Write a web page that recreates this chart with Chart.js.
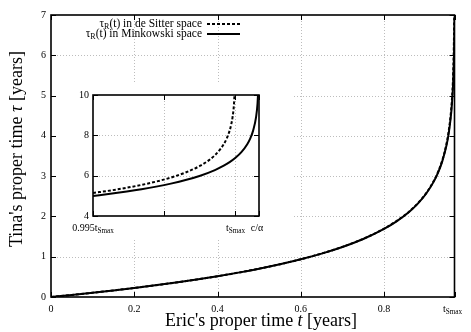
<!DOCTYPE html>
<html>
<head>
<meta charset="utf-8">
<script src="https://cdn.jsdelivr.net/npm/chart.js@4.4.1/dist/chart.umd.min.js"></script>
<style>
  html, body { margin: 0; padding: 0; background: #fff; }
  #wrap { position: relative; width: 471px; height: 332px; }
  #main { position: absolute; left: 0; top: 0; }
  #inset { position: absolute; left: 56px; top: 83px; }
</style>
</head>
<body>
<div id="wrap">
  <canvas id="main" width="471" height="332"></canvas>
  <canvas id="inset" width="237" height="157"></canvas>
</div>
<script>
const SERIF = "'Liberation Serif', 'DejaVu Serif', serif"

// main plot: Eric's time t (years) vs Tina's time tau (years)
const mainT = [0, 0.05, 0.1, 0.15, 0.2, 0.25, 0.3, 0.35, 0.4, 0.45, 0.5, 0.55, 0.6, 0.65, 0.7, 0.75, 0.8, 0.83, 0.86, 0.88, 0.9, 0.92, 0.93, 0.94, 0.95, 0.955, 0.96, 0.963, 0.966, 0.968, 0.969, 0.9692]
const mainMinkowski = [0, 0.051, 0.106, 0.163, 0.224, 0.289, 0.359, 0.434, 0.516, 0.605, 0.703, 0.812, 0.935, 1.076, 1.241, 1.439, 1.689, 1.878, 2.112, 2.306, 2.550, 2.876, 3.093, 3.372, 3.765, 4.044, 4.438, 4.783, 5.326, 5.999, 6.671, 6.887]
const mainDsT = [0, 0.05, 0.1, 0.15, 0.2, 0.25, 0.3, 0.35, 0.4, 0.45, 0.5, 0.55, 0.6, 0.65, 0.7, 0.75, 0.8, 0.83, 0.86, 0.88, 0.9, 0.92, 0.93, 0.94, 0.95, 0.955, 0.96, 0.963, 0.966, 0.968, 0.9685, 0.9688, 0.969]
const mainDeSitter = [0, 0.051, 0.106, 0.163, 0.224, 0.289, 0.359, 0.434, 0.516, 0.605, 0.704, 0.813, 0.937, 1.079, 1.245, 1.444, 1.696, 1.886, 2.118, 2.314, 2.560, 2.891, 3.111, 3.397, 3.804, 4.097, 4.518, 4.900, 5.542, 6.493, 7.016, 7.559, 8.231]
const mainXTicks = [0, 0.2, 0.4, 0.6, 0.8, 0.9692]
const mainXLabels = ['0', '0.2', '0.4', '0.6', '0.8', 't_Smax']

// inset: zoom on the last part before t_Smax and c/alpha
const insetMinkT = [0.96435, 0.9650, 0.9655, 0.9660, 0.9665, 0.9670, 0.9675, 0.9680, 0.9685, 0.9688, 0.9690, 0.9692, 0.9694, 0.9696, 0.9697, 0.9698, 0.9699, 0.96995, 0.96998]
const insetMinkowski = [4.991, 5.110, 5.212, 5.326, 5.456, 5.606, 5.782, 5.999, 6.278, 6.494, 6.671, 6.887, 7.166, 7.560, 7.839, 8.233, 8.905, 9.578, 10.47]
const insetDsT = [0.96435, 0.9650, 0.9655, 0.9660, 0.9665, 0.9670, 0.9675, 0.9680, 0.9683, 0.9685, 0.9687, 0.9688, 0.9689, 0.9690, 0.96905, 0.9691, 0.96915, 0.96918]
const insetDeSitter = [5.139, 5.278, 5.401, 5.542, 5.707, 5.905, 6.156, 6.493, 6.772, 7.016, 7.342, 7.559, 7.838, 8.231, 8.511, 8.904, 9.576, 10.47]
const insetXTicks = [0.96435, 0.966777, 0.9692, 0.97]
const insetXLabels = ['0.995t_Smax', '', 't_Smax', 'c/α']

const toPoints = (xs, ys) => xs.map((x, i) => ({x: x, y: ys[i]}))

// draws "base_sub" with a lowered, smaller subscript
const drawSubText = (ctx, text, x, y, size, align) => {
    const parts = text.split('_')
    const base = parts[0]
    const sub = parts[1] || ''
    const subSize = size * 0.72
    ctx.font = size + 'px ' + SERIF
    const wb = ctx.measureText(base).width
    ctx.font = subSize + 'px ' + SERIF
    const ws = ctx.measureText(sub).width
    let x0 = x
    if (align === 'center') x0 = x - (wb + ws) / 2
    if (align === 'right') x0 = x - wb - ws
    ctx.textAlign = 'left'
    ctx.textBaseline = 'middle'
    ctx.fillStyle = '#000'
    ctx.font = size + 'px ' + SERIF
    ctx.fillText(base, x0, y)
    ctx.font = subSize + 'px ' + SERIF
    ctx.fillText(sub, x0 + wb, y + size * 0.32)
    return wb + ws
}

const line = (ctx, x1, y1, x2, y2) => {
    ctx.beginPath()
    ctx.moveTo(x1, y1)
    ctx.lineTo(x2, y2)
    ctx.stroke()
}

// gnuplot look: dotted grid, boxed frame, inward ticks on all sides
const gnuplotFrame = {
    id: 'gnuplotFrame',
    beforeDraw(chart) {
        const ctx = chart.ctx
        ctx.save()
        ctx.fillStyle = '#fff'
        ctx.fillRect(0, 0, chart.width, chart.height)
        ctx.restore()
    },
    beforeDatasetsDraw(chart) {
        const {ctx, chartArea: a, scales: {x, y}} = chart
        ctx.save()
        ctx.strokeStyle = '#bdbdbd'
        ctx.lineWidth = 1
        ctx.setLineDash([1, 2])
        x.ticks.forEach(t => {
            const px = Math.round(x.getPixelForValue(t.value)) + 0.5
            if (px <= a.left + 2 || px >= a.right - 2) return
            line(ctx, px, a.top, px, a.bottom)
        })
        y.ticks.forEach(t => {
            const py = Math.round(y.getPixelForValue(t.value)) + 0.5
            if (py <= a.top + 2 || py >= a.bottom - 2) return
            line(ctx, a.left, py, a.right, py)
        })
        ctx.restore()
    },
    afterDatasetsDraw(chart, args, opts) {
        const {ctx, chartArea: a, scales: {x, y}} = chart
        const len = opts.tickLen
        ctx.save()
        ctx.strokeStyle = '#000'
        ctx.lineWidth = 1
        x.ticks.forEach(t => {
            const px = Math.round(x.getPixelForValue(t.value)) + 0.5
            line(ctx, px, a.bottom, px, a.bottom - len)
            line(ctx, px, a.top, px, a.top + len)
        })
        y.ticks.forEach(t => {
            const py = Math.round(y.getPixelForValue(t.value)) + 0.5
            line(ctx, a.left, py, a.left + len, py)
            line(ctx, a.right, py, a.right - len, py)
        })
        ctx.lineWidth = 1.6
        ctx.strokeRect(a.left, a.top, a.right - a.left, a.bottom - a.top)
        x.ticks.forEach((t, i) => {
            const label = opts.xLabels[i]
            if (!label) return
            const px = x.getPixelForValue(t.value) + (opts.xShift[i] || 0)
            drawSubText(ctx, label, px, a.bottom + opts.labelGap, 10, 'center')
        })
        ctx.restore()
    }
}

// axis titles and key of the main plot
const mainExtras = {
    id: 'mainExtras',
    afterDraw(chart) {
        const ctx = chart.ctx
        ctx.save()
        ctx.fillStyle = '#000'
        ctx.textBaseline = 'middle'

        // x title with italic t
        const xParts = [["Eric's proper time ", ''], ['t', 'italic '], [' [years]', '']]
        let total = 0
        xParts.forEach(p => { ctx.font = p[1] + '18px ' + SERIF; total += ctx.measureText(p[0]).width })
        let cx = 261 - total / 2
        ctx.textAlign = 'left'
        xParts.forEach(p => {
            ctx.font = p[1] + '18px ' + SERIF
            ctx.fillText(p[0], cx, 321)
            cx += ctx.measureText(p[0]).width
        })

        // y title with italic tau, rotated
        const yParts = [["Tina's proper time ", ''], ['τ', 'italic '], [' [years]', '']]
        total = 0
        yParts.forEach(p => { ctx.font = p[1] + '18px ' + SERIF; total += ctx.measureText(p[0]).width })
        ctx.save()
        ctx.translate(17, 149)
        ctx.rotate(-Math.PI / 2)
        cx = -total / 2
        yParts.forEach(p => {
            ctx.font = p[1] + '18px ' + SERIF
            ctx.fillText(p[0], cx, 0)
            cx += ctx.measureText(p[0]).width
        })
        ctx.restore()

        // key
        const keyRows = [
            {rest: '(t) in de Sitter space', y: 23.5, dash: [3, 2]},
            {rest: '(t) in Minkowski space', y: 33.5, dash: []}
        ]
        keyRows.forEach(row => {
            ctx.font = '11.5px ' + SERIF
            const wr = ctx.measureText(row.rest).width
            ctx.textAlign = 'left'
            const x0 = 202 - wr
            ctx.fillText(row.rest, x0, row.y)
            ctx.font = '8px ' + SERIF
            const wR = ctx.measureText('R').width
            ctx.fillText('R', x0 - wR, row.y + 3.5)
            ctx.font = '11.5px ' + SERIF
            const wt = ctx.measureText('τ').width
            ctx.fillText('τ', x0 - wR - wt, row.y)
            ctx.strokeStyle = '#000'
            ctx.lineWidth = 2
            ctx.setLineDash(row.dash)
            line(ctx, 207, row.y + 0.5, 240, row.y + 0.5)
        })
        ctx.restore()
    }
}

const lineDataset = (pts, dash) => ({
    data: pts,
    borderColor: '#000',
    borderWidth: 2,
    borderDash: dash,
    pointRadius: 0,
    fill: false,
    cubicInterpolationMode: 'monotone'
})

const tickFont = {family: SERIF, size: 10}

new Chart(document.getElementById('main'), {
    type: 'line',
    data: {
        datasets: [
            lineDataset(toPoints(mainT, mainMinkowski), []),
            lineDataset(toPoints(mainDsT, mainDeSitter), [3, 2])
        ]
    },
    options: {
        responsive: false,
        animation: false,
        devicePixelRatio: 1,
        layout: {padding: {top: 15, right: 16.5, left: 0, bottom: 0}},
        plugins: {
            legend: {display: false},
            tooltip: {enabled: false},
            gnuplotFrame: {tickLen: 5, xLabels: mainXLabels, labelGap: 12, xShift: [0, 0, 0, 0, 0, -2]}
        },
        scales: {
            x: {
                type: 'linear',
                min: 0,
                max: 0.9692,
                afterBuildTicks: s => { s.ticks = mainXTicks.map(v => ({value: v})) },
                afterFit: s => { s.height = 35 },
                grid: {display: false, drawTicks: false},
                border: {display: false},
                ticks: {display: false}
            },
            y: {
                min: 0,
                max: 7,
                afterFit: s => { s.width = 51 },
                grid: {display: false, drawTicks: false},
                border: {display: false},
                ticks: {stepSize: 1, padding: 5, color: '#000', font: tickFont}
            }
        }
    },
    plugins: [gnuplotFrame, mainExtras]
})

new Chart(document.getElementById('inset'), {
    type: 'line',
    data: {
        datasets: [
            lineDataset(toPoints(insetMinkT, insetMinkowski), []),
            lineDataset(toPoints(insetDsT, insetDeSitter), [3, 2])
        ]
    },
    options: {
        responsive: false,
        animation: false,
        devicePixelRatio: 1,
        layout: {padding: {top: 12, right: 34, left: 0, bottom: 0}},
        plugins: {
            legend: {display: false},
            tooltip: {enabled: false},
            gnuplotFrame: {tickLen: 5, xLabels: insetXLabels, labelGap: 12, xShift: [0, 0, 0, -2]}
        },
        scales: {
            x: {
                type: 'linear',
                min: 0.96435,
                max: 0.97,
                afterBuildTicks: s => { s.ticks = insetXTicks.map(v => ({value: v})) },
                afterFit: s => { s.height = 24 },
                grid: {display: false, drawTicks: false},
                border: {display: false},
                ticks: {display: false}
            },
            y: {
                min: 4,
                max: 10,
                afterFit: s => { s.width = 37 },
                grid: {display: false, drawTicks: false},
                border: {display: false},
                ticks: {stepSize: 2, padding: 4, color: '#000', font: tickFont}
            }
        }
    },
    plugins: [gnuplotFrame]
})
</script>
</body>
</html>
